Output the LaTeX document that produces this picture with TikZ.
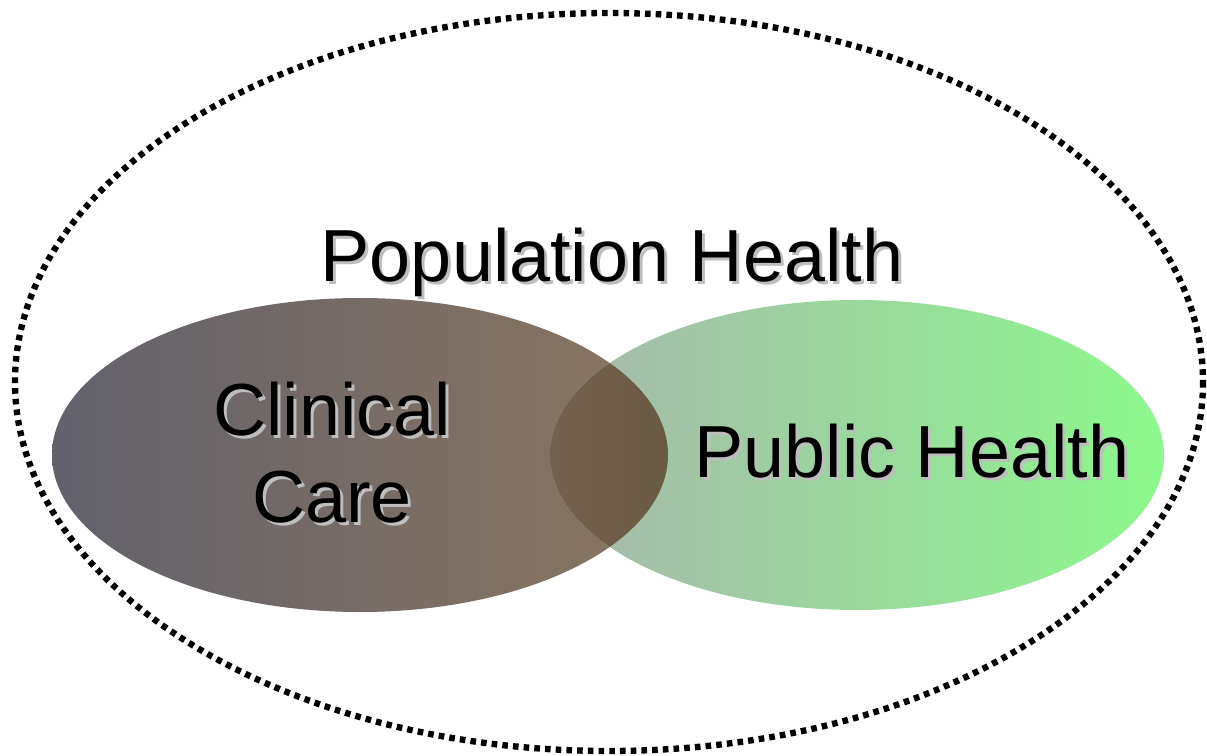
\documentclass[tikz,border=0pt]{standalone}
\usepackage{fontspec}
\setmainfont{Liberation Sans}
\definecolor{careleft}{HTML}{62616C}
\definecolor{careright}{HTML}{8B7660}
\definecolor{publicleft}{HTML}{A8B6AE}
\definecolor{publicmid}{HTML}{A4E6A8}
\definecolor{publicright}{HTML}{8CF98C}
\definecolor{overlapleft}{HTML}{73614F}
\definecolor{overlapright}{HTML}{6B5A42}
\definecolor{shadowgray}{HTML}{BEBEBE}

\begin{document}
\begin{tikzpicture}[x=0.02cm,y=-0.02cm,
    every node/.style={font=\fontsize{42}{50}\selectfont,inner sep=0pt,anchor=base,align=center},
    shadowed/.style={text=shadowgray}]
\useasboundingbox (0,0) rectangle (1207,756);

% Macro for a label with a drop shadow
\newcommand{\shadowlabel}[4]{
    \node[shadowed] (#1-shadow) at (#2+3,#3+3) {#4};
    \node (#1) at (#2,#3) {#4};
}

% Population (dotted outline)
\draw[line width=3.6pt,dash pattern=on 3.2pt off 2.9pt] (609,382) ellipse [x radius=594, y radius=369];

% Clinical care
\shade[left color=careleft,right color=careright] (360,455) ellipse [x radius=308, y radius=157];

% Public health
\shade[left color=publicleft,middle color=publicmid,right color=publicright] (857,455) ellipse [x radius=307, y radius=155];

% Overlap
\begin{scope}
    \clip (360,455) ellipse [x radius=308, y radius=157];
    \clip (857,455) ellipse [x radius=307, y radius=155];
    \shade[left color=overlapleft,right color=overlapright] (550,298) rectangle (668,612);
\end{scope}

% Labels
\shadowlabel{population}{612}{282}{Population Health}
\shadowlabel{clinical}{332}{523}{Clinical\\Care}
\shadowlabel{public}{912}{478}{Public Health}

\end{tikzpicture}
\end{document}
